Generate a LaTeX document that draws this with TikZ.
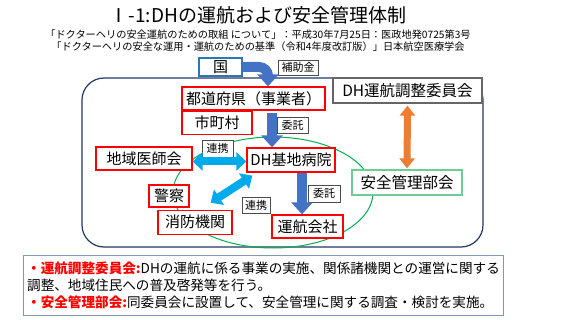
\documentclass[tikz,border=0pt]{standalone}
\usepackage{fontspec}
\setmainfont{Noto Sans CJK JP}
\usepackage{tikz}
\usetikzlibrary{arrows.meta, positioning, backgrounds}

\definecolor{hblue}{RGB}{68,114,196}
\definecolor{hcyan}{RGB}{0,170,235}
\definecolor{horange}{RGB}{237,125,49}
\definecolor{hnavy}{RGB}{32,56,100}
\definecolor{hgreen}{RGB}{0,176,80}
\definecolor{hmint}{RGB}{110,205,150}
\definecolor{hkuni}{RGB}{46,117,182}
\definecolor{hslate}{RGB}{132,151,176}

\begin{document}
\begin{tikzpicture}[
    x=1pt, y=-1pt,
    every node/.style={font=\fontsize{15}{18}\selectfont},
    org/.style={rectangle, draw=red, line width=1.3pt, fill=white,
                inner sep=0pt, minimum height=23pt},
    tag/.style={rectangle, draw=black!70, line width=0.9pt, fill=white,
                inner sep=0pt, minimum width=31pt, minimum height=16pt,
                font=\fontsize{11}{13}\selectfont},
    barr/.style={hblue, line width=10pt, -{Triangle[length=12pt,width=21pt]}},
    carr/.style={hcyan, line width=8pt,
                 {Triangle[length=10pt,width=18pt]}-{Triangle[length=10pt,width=18pt]}},
    oarr/.style={horange, line width=7pt,
                 {Triangle[length=10pt,width=15pt]}-{Triangle[length=10pt,width=15pt]}}
  ]
  \useasboundingbox (0,0) rectangle (569,320);

  %% Title
  \node[font=\fontsize{19}{22}\selectfont] (title) at (258,15)
        {Ⅰ-1:DHの運航および安全管理体制};
  \node[font=\fontsize{10.2}{12}\selectfont, align=center] (src) at (258,41)
        {「ドクターヘリの安全運航のための取組 について」：平成30年7月25日：医政地発0725第3号\\
         「ドクターヘリの安全な運用・運航のための基準（令和4年度改訂版）」日本航空医療学会};

  %% Organisations
  \node[draw=hkuni, line width=1.3pt, fill=white, inner sep=0pt,
        minimum width=43pt, minimum height=18pt] (kuni) at (220.5,67) {国};
  \node[tag, minimum width=40pt, minimum height=15pt] (hojo) at (298,67.5) {補助金};

  \node[org, minimum width=143pt] (pref) at (253.5,98.5) {都道府県（事業者）};
  \node[org, minimum width=70pt, anchor=north west] (city) at (pref.south west) {市町村};

  \node[org, draw=black!60, minimum width=149pt, minimum height=25pt,
        font=\fontsize{15.5}{18}\selectfont] (dhc) at (407.5,90.5) {DH運航調整委員会};
  \node[org, draw=hmint, minimum width=110pt, minimum height=25pt,
        font=\fontsize{15.5}{18}\selectfont] (safe) at (407,182.5) {安全管理部会};

  \node[org, minimum width=88pt, minimum height=24pt] (hosp) at (291,160) {DH基地病院};
  \node[org, minimum width=96pt] (ishi) at (144,158.5) {地域医師会};
  \node[org, minimum width=40pt, minimum height=22pt] (pol) at (169,196) {警察};
  \node[org, minimum width=74pt, minimum height=24pt, anchor=north west]
        (fire) at ([xshift=9pt,yshift=-2pt]pol.south west) {消防機関};
  \node[org, minimum width=71pt] (ops) at (307.5,226.5) {運航会社};

  %% Link labels
  \node[tag] (itaku1) at (292.5,125) {委託};
  \node[tag, minimum height=17pt] (renkei1) at (217.5,148.5) {連携};
  \node[tag, minimum width=28pt] (renkei2) at (256,205) {連携};
  \node[tag, minimum width=32pt, minimum height=17pt] (itaku2) at (324,193.5) {委託};

  %% Frame and circle
  \begin{scope}[on background layer]
    \draw[hnavy, line width=1.2pt, rounded corners=22pt] (82,78) rectangle (483,247);
    \draw[hgreen, line width=1pt] (273,192.5) ellipse [x radius=100, y radius=55.5];
  \end{scope}

  %% Arrows
  \draw[barr, rounded corners=9pt] (kuni.east) -| ([xshift=14.5pt]pref.north);
  \draw[barr] ([xshift=18.5pt,yshift=-2pt]pref.south)
              -- ([xshift=18.5pt]pref.south |- hosp.north);
  \draw[barr] ([xshift=11pt]hosp.south) -- ([xshift=11pt]hosp.south |- ops.north);
  \draw[carr] ([yshift=-3pt]ishi.east) -- ([yshift=-3pt]ishi.east -| hosp.west);
  \draw[carr] ([xshift=-22pt,yshift=7pt]fire.north east)
              -- ([xshift=6pt,yshift=-3pt]hosp.south west);
  \draw[oarr] ([yshift=-2pt]dhc.south) -- ([yshift=1pt]safe.north);

  %% Note
  \node[draw=hslate, line width=1pt, anchor=north west, minimum width=480pt,
        minimum height=60pt, align=left, inner sep=3pt,
        font=\fontsize{13.6}{17}\selectfont] (note) at (23,255)
        {\textcolor{red}{\bfseries ・運航調整委員会:}DHの運航に係る事業の実施、関係諸機関との運営に関する\\
         調整、地域住民への普及啓発等を行う。\\
         \textcolor{red}{\bfseries ・安全管理部会:}同委員会に設置して、安全管理に関する調査・検討を実施。};

\end{tikzpicture}
\end{document}
